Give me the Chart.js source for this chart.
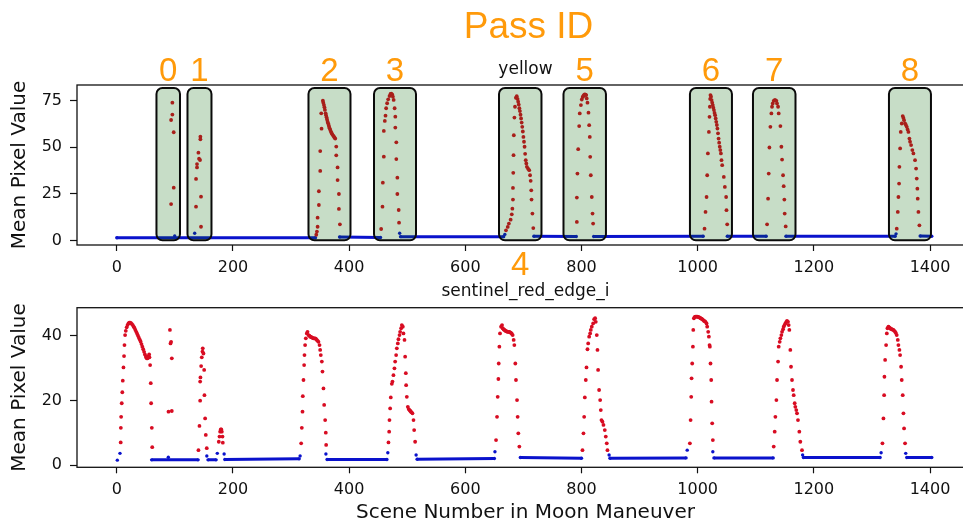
<!DOCTYPE html>
<html><head><meta charset="utf-8">
<script src="https://cdn.jsdelivr.net/npm/chart.js@4.4.1/dist/chart.umd.min.js"></script>
<style>
html,body{margin:0;padding:0;background:#fff;overflow:hidden;width:963px;height:524px}
#wrap{position:relative;width:963px;height:524px;overflow:hidden;background:#fff}
canvas{position:absolute;left:0}
#c1{top:0}
#c2{top:280px}
</style></head><body>
<div id="wrap"><canvas id="c1" width="1000" height="280"></canvas><canvas id="c2" width="1000" height="246"></canvas></div>
<script>
// ---------- tick labels ----------
const sceneTicks = [0, 200, 400, 600, 800, 1000, 1200, 1400];
const yellowTicks = [0, 25, 50, 75];
const redEdgeTicks = [0, 20, 40];

// ---------- pass annotation (scene ranges of highlighted passes) ----------
const passIds   = ['0', '1', '2', '3', '4', '5', '6', '7', '8'];
const passStart = [68.3, 121.7, 330, 442.8, 658, 769, 986.7, 1095.2, 1329.3];
const passEnd   = [108.8, 163, 402.3, 515.1, 731.1, 842.1, 1059, 1168.4, 1401.6];

// ---------- "yellow" band: in-pass scenes [scene, mean pixel value] ----------
const yellowPass0 = [[93.5,19.5],[93.5,64.7],[95.7,74],[95.7,67.6],[98,58.1],[98,28.3]];
const yellowPass1 = [[136.4,18.1],[136.4,33],[138.1,39.2],[138.1,41],[140.5,47.1],[141.6,43.9],[143.3,43.2],[143.9,55.7],[143.9,54.3],[145,23.5],[145,7.3]];
const yellowPass2 = [[343.4,3.0],[344.5,4.7],[345.7,7.3],[345.7,12.2],[347.9,19],[347.9,26.4],[350.2,37.3],[350.2,48],[352.5,60],[352,68.3],[354.8,75.1],[355.5,74],[356.6,72.8],[357.5,71.5],[358.3,70.1],[359.5,68.3],[360.3,67.2],[361.2,66.1],[362,65],[362.9,63.8],[363.8,62.9],[364.7,62],[365.5,61.1],[366.4,60.2],[367.5,59.3],[368.7,58.4],[369.8,57.7],[371,57],[372.4,56.3],[373.8,55.7],[375,55.2],[376.1,54.7],[377.8,50.4],[377.8,45.7],[380.1,39.2],[380.1,32.4],[382.4,24.9],[382.4,16.9],[384.1,8.6]];
const yellowPass3 = [[455.1,6.1],[457.4,18.1],[458,31],[459.7,45],[459.7,58.8],[461.4,64.2],[462.6,67],[463.7,71],[465.4,73.7],[467.2,75.8],[469.5,77.6],[471.2,78.7],[472.5,78.9],[474,78.5],[475.3,77.2],[476.6,75.5],[478.3,71],[479.5,66.5],[479.5,60.6],[481.2,52.7],[481.2,43.7],[483,33.7],[483,24.9],[485.3,16.3],[485.9,9.5]];
const yellowPass4 = [[670,5.4],[673,7.2],[675,9],[678,11.1],[680,14],[681,17],[682,21.9],[682,28.2],[682.5,36.3],[683,45.8],[683.5,56.5],[684.5,66],[685.5,71.8],[687,76.6],[688.5,77.5],[690,76],[691,74.5],[692,73],[693,71],[694,69.5],[695,67.5],[696,65.5],[697,63.3],[698,61],[699,58.5],[700,55.6],[701,53],[702,50.3],[703,46.5],[704,43.1],[705,41.3],[706,39.5],[708,38.5],[710,37.7],[711.5,35],[712.5,32],[713.5,26.9],[714,21.9],[715.5,14.4],[717,6.6]];
const yellowPass5 = [[792,9.9],[792,23],[793,35.9],[794.3,49],[796,61.4],[797,68.2],[799,72.7],[800.5,75.7],[802,77],[803,77.5],[804,78],[805.5,78.4],[807,78.3],[808,78.1],[809,76.3],[810.3,74],[812,68.6],[813.2,61.9],[814.3,55.6],[815,44.9],[816,35],[817.7,23.3],[819,14.4],[820,9]];
const yellowPass6 = [[1011.8,6.3],[1013.5,15.3],[1015.3,23.3],[1016.4,35],[1017.6,46.7],[1019.3,58.3],[1020.4,66.4],[1021,71.8],[1021.5,76],[1022,78.1],[1023,77.2],[1024,75.4],[1025,74],[1026,72.7],[1027,71.3],[1028,70],[1029,68.5],[1030,67.3],[1031,65.5],[1032,63.7],[1033,62],[1034,60.1],[1035,57.5],[1036,54.7],[1037,52.5],[1038,50.3],[1039,48.5],[1040,46.7],[1041,43.1],[1042.2,40.4],[1045,34.1],[1046.8,28.7],[1049,23.3],[1049.6,16.2],[1050.8,8.6]];
const yellowPass7 = [[1119.5,8.6],[1121.2,22.4],[1122.3,35.9],[1123.5,49.9],[1125.2,61],[1126.9,68.2],[1128,71.8],[1129.2,73.6],[1130.9,75],[1132.4,75.4],[1133.8,75.4],[1135.5,75],[1136.6,73.6],[1138.4,71.8],[1139.5,68.2],[1142.4,61.4],[1144.1,50.3],[1145.3,43.4],[1147,35],[1148.1,29.1],[1149.2,21.9],[1149.8,14.4],[1151.5,7.5]];
const yellowPass8 = [[1342.7,6.3],[1344.5,15.3],[1345.6,23.3],[1346.7,30.5],[1347.3,39.5],[1348.5,49.4],[1349.6,58.3],[1351.3,62.8],[1353,66.8],[1354.2,65.8],[1355.3,64.6],[1357,62.8],[1358.5,62],[1359.9,61],[1361.4,59.6],[1362.8,58.3],[1364.5,54.7],[1365.6,53],[1367.4,51.2],[1369.6,48.5],[1371.4,46.7],[1374.2,43.1],[1376,38.6],[1377.1,33.2],[1378.2,27.8],[1378.8,22.4],[1380,15.3],[1381.7,8.1]];
// out-of-pass scenes: runs of consecutive scenes (single-entry runs are isolated scenes)
const yellowBaseline = [
  [[0,1.4],[342,1.4]], [[99.7,2.4]], [[134.1,3.8]],
  [[383.5,1.8],[454,1.5]],
  [[487,3.8]], [[488.5,2.0],[666,2.0]], [[668,3.2]],
  [[718,2.2],[791,2.1]],
  [[821,2.1],[1009.5,2.2]],
  [[1051,2.2],[1118,2.2]],
  [[1152,2.2],[1340,2.2]], [[1341.5,3.5]],
  [[1383,2.3],[1403,2.2]]
];

// ---------- "sentinel_red_edge_i" band ----------
const redEdgePassA = [[6.7,7],[7,11.5],[7.5,14.9],[8.5,19.1],[9.5,22.5],[10.3,26.1],[11.5,30.2],[12.5,33.7],[13.2,37.1],[14.3,40.2],[15.5,41.5],[17,42.6],[18.5,43.3],[20,43.8],[21.5,44],[23,44],[24.5,43.9],[26,43.6],[27.5,43.3],[29,42.8],[30.5,42.4],[32,41.8],[33.5,41.2],[35,40.6],[36.5,40],[38,39.4],[39.5,38.8],[41,38.2],[42.5,37.4],[44,36.6],[45.5,35.8],[47,35],[48.5,34.2],[50,33.5],[51.5,33],[53,33],[54.5,33.6],[55.7,34.2],[56.2,33.3],[57.4,30.9],[58.5,25.3],[59.1,19.1],[60.3,11.5],[61,5.5]];
const redEdgePassB = [[89,16.5],[91.5,41.8],[92.5,37.6],[93.5,38.1],[94.7,33],[94.7,16.7]];
const redEdgePassC = [[140.6,4.6],[142.3,12.1],[143.5,19.9],[143.5,25.8],[144,27.1],[145.2,30.6],[146.3,33.3],[147.5,35.1],[148,36.1],[149.2,34.5],[150.4,29.4],[150.9,21.6],[152.1,14.4],[153.2,9.3],[154.9,5.2]];
const redEdgePassD = [[175.6,7.2],[176.8,8.8],[177.9,10.3],[179,11],[180,11],[180.8,10.3],[182,8.8],[182.5,6.9]];
const redEdgePassE = [[317.4,6.7],[318.5,11.5],[319.7,16.5],[320.2,21.3],[321.4,26.3],[322.5,30.9],[323.1,34],[324.2,37.1],[325.4,39.2],[327.1,40.7],[328.3,41.2],[330,40.2],[331.5,40],[332.9,39.7],[334.3,39.6],[335.7,39.5],[337.2,39.3],[338.6,39.2],[340,39.2],[341.5,39.2],[342.9,39],[344.3,38.7],[345.8,38.4],[347.2,38.1],[349,37.1],[350.1,35.6],[351.2,34],[353,32],[354.1,28.9],[355.8,23.7],[357,18.6],[358.7,13.9],[359.8,10],[360.4,6.2]];
const redEdgePassF = [[467.7,7],[468.9,10.3],[469.4,13.9],[470.6,17.5],[471.7,20.9],[473.5,25.1],[474.6,25.8],[476.3,27.8],[478,29.9],[479.2,32],[480.9,34],[482.1,36.1],[483.8,37.6],[484.9,38.9],[486.7,40.2],[487.8,41.2],[489.5,42.3],[490.7,43.3],[492.4,42.8],[493.5,40.7],[495.3,38.7],[496.4,33.5],[497.6,28.4],[498.1,24.7],[499.3,21.1],[501,18],[502.5,17.3],[503.9,17],[505,16.8],[506.2,16.5],[507.6,16.3],[509,16],[510.8,13.9],[511.9,10.8],[513.6,7.2]];
const redEdgePassG = [[652.9,7.7],[654.6,14.9],[655.7,21.1],[656.9,26.6],[657.5,31.4],[658.6,36.6],[659.7,40.7],[661.5,42.8],[663.2,43.3],[664.3,42.3],[665.8,42],[667.2,41.8],[668.6,41.6],[670,41.4],[671.5,41.3],[672.9,41.2],[674.4,41.2],[675.8,41.2],[677.2,41],[678.6,40.9],[680,40.6],[681.5,40.2],[683.2,38.7],[684.4,37.1],[686.1,31.4],[687.2,26.3],[689,20.1],[690.1,14.9],[691.2,9.8],[693,5.7]];
const redEdgePassH = [[801.7,4.6],[803.4,9.8],[804.6,14.9],[805.7,20.9],[807.4,26.3],[808.6,30.2],[810.3,35.8],[811.5,37.6],[813.2,39.7],[814.9,40.7],[816,41.8],[817.7,42.8],[820,43.8],[821.8,45.1],[823.5,45.4],[824.6,44.3],[826.3,40.2],[827.5,35.6],[828.6,29.4],[830.3,23.2],[832.1,20.1],[833.2,17],[834.4,13.9],[836.1,13.4],[837.8,12.4],[840.1,10.8],[841.8,8.8],[843.5,6.7],[844.7,4.6]];
const redEdgePassI = [[986.6,6.7],[987.8,13.9],[988.9,21.1],[989.5,26.8],[990.6,31.4],[991.8,36.6],[992.4,41.8],[993.5,45.4],[995,45.8],[996.4,45.9],[997.8,45.9],[999.2,45.9],[1000.6,45.8],[1002.1,45.7],[1003.5,45.6],[1005,45.4],[1006.4,45.3],[1007.8,45.1],[1009.2,44.9],[1010.7,44.6],[1012.1,44.5],[1013.5,44.3],[1015.3,43.8],[1016.4,42.8],[1018.1,41.2],[1019.3,39.7],[1020.4,37.1],[1021,36.6],[1022.1,31.4],[1023.3,26.3],[1023.9,19.6],[1025,12.9],[1026.1,7.7]];
const redEdgePassJ = [[1130.9,5.7],[1132.6,10.3],[1133.8,14.9],[1135.5,20.1],[1136.6,26.3],[1138.4,32],[1139.5,36.6],[1141.2,38.1],[1142.4,39.2],[1144.1,40.2],[1145.3,41.2],[1147,42],[1148.1,42.8],[1149.5,43.3],[1151,43.8],[1152.4,44.2],[1153.8,44.6],[1155.5,44.3],[1156.7,43.3],[1157.8,41.8],[1159.5,35.6],[1160.7,30.4],[1162.4,26.3],[1164.1,23.2],[1165.3,21.6],[1167,19.1],[1168.1,18],[1169.8,17],[1171,16],[1172.7,13.9],[1175,10.3],[1176.7,7.2],[1179.6,4.6]];
const redEdgePassK = [[1318.1,6.7],[1319.8,14.4],[1321,21.6],[1321.5,27.3],[1322.7,32.5],[1324.4,37.1],[1325.6,40.7],[1326.7,42.3],[1328.4,42.8],[1329.8,42.6],[1331.3,42.3],[1332.7,42.1],[1334.2,42],[1335.6,41.9],[1337,41.8],[1338.5,41.5],[1339.9,41.2],[1341.3,40.8],[1342.7,40.2],[1344.5,38.7],[1345.6,37.1],[1347.3,35.6],[1348.5,34],[1350.2,30.4],[1351.3,26.3],[1353,21.6],[1354.2,16],[1355.3,11.3],[1357,6.7]];
const redEdgeBaseline = [
  [[0.9,1.5]], [[5.5,3.6]],
  [[60,1.6],[140,1.6]], [[88.7,2.4]],
  [[155,2.8]], [[157,1.6],[171,1.6]], [[173,3.6]],
  [[184.8,3.4]], [[186,1.7],[314,1.9]], [[315.6,2.8]],
  [[360,3.4]], [[362,1.7],[465,1.7]], [[466.6,3.8]],
  [[515.3,3.1]], [[517,1.8],[650,2.0]], [[651,4.1]],
  [[694.7,2.3],[800,2.1]],
  [[847.5,3.1]], [[849,2.1],[980,2.2]], [[982,4.6]],
  [[1026.1,4.1]], [[1028,2.2],[1130,2.2]],
  [[1180.7,3.1]], [[1182,2.3],[1314,2.3]], [[1315.8,3.8]],
  [[1358.2,3.6]], [[1360,2.3],[1403,2.3]]
];

const yellowPasses = [yellowPass0, yellowPass1, yellowPass2, yellowPass3, yellowPass4, yellowPass5, yellowPass6, yellowPass7, yellowPass8];
const redEdgePasses = [redEdgePassA, redEdgePassB, redEdgePassC, redEdgePassD, redEdgePassE, redEdgePassF, redEdgePassG, redEdgePassH, redEdgePassI, redEdgePassJ, redEdgePassK];

// ---------- helpers ----------
const toPts = groups => groups.flat().map(([x, y]) => ({x, y}));
const toRuns = runs => {
  const out = [];
  runs.forEach((run, i) => {
    if (i > 0) out.push({x: run[0][0], y: null});
    run.forEach(([x, y]) => out.push({x, y}));
  });
  return out;
};

const RED = '#d80c22';
const BLUE = '#0a12cc';
const ORANGE = '#ff9a0a';
const FONT = "'DejaVu Sans', sans-serif";
Chart.defaults.font.family = FONT;
Chart.defaults.color = '#111';

const frame = {
  id: 'frame',
  afterDraw(chart) {
    const a = chart.chartArea, c = chart.ctx;
    c.save(); c.strokeStyle = '#111'; c.lineWidth = 1.3;
    c.strokeRect(a.left, a.top, a.right - a.left, a.bottom - a.top);
    c.restore();
  }
};

const passBoxes = {
  id: 'passBoxes',
  afterDatasetsDraw(chart) {
    const xs = chart.scales.x, ys = chart.scales.y, c = chart.ctx;
    const yTop = ys.getPixelForValue(81.9), yBot = ys.getPixelForValue(0);
    c.save();
    passStart.forEach((s, i) => {
      const x0 = xs.getPixelForValue(s), x1 = xs.getPixelForValue(passEnd[i]);
      c.beginPath();
      c.roundRect(x0, yTop, x1 - x0, yBot - yTop, 6);
      c.fillStyle = 'rgba(0,100,0,0.22)';
      c.fill();
      c.lineWidth = 2; c.strokeStyle = '#0a0a0a';
      c.stroke();
    });
    c.restore();
  },
  afterDraw(chart) {
    const xs = chart.scales.x, c = chart.ctx;
    c.save();
    c.fillStyle = ORANGE; c.textAlign = 'center'; c.textBaseline = 'alphabetic';
    c.font = "37px 'Liberation Sans', Arial, sans-serif";
    c.fillText('Pass ID', 528.5, 38.3);
    c.font = "33px 'Liberation Sans', Arial, sans-serif";
    passIds.forEach((id, i) => {
      const cx = xs.getPixelForValue((passStart[i] + passEnd[i]) / 2);
      const below = id === '4';
      c.fillText(id, cx, below ? 275 : 80.5);
    });
    c.restore();
  }
};

function xScale(withTitle) {
  return {
    type: 'linear', min: -68.5, max: 1475.7,
    afterBuildTicks: s => { s.ticks = sceneTicks.map(v => ({value: v})); },
    ticks: {font: {size: 16}, color: '#111', padding: 7, maxRotation: 0, autoSkip: false, callback: v => String(v)},
    grid: {drawOnChartArea: false, drawTicks: true, tickLength: 6, tickColor: '#111', tickWidth: 1.2},
    border: {display: false},
    title: withTitle ? {display: true, text: 'Scene Number in Moon Maneuver', font: {size: 20}, color: '#111', padding: {top: 0, bottom: 1.6}} : {display: false}
  };
}
function yScale(min, max, ticksArr) {
  return {
    type: 'linear', min, max,
    afterBuildTicks: s => { s.ticks = ticksArr.map(v => ({value: v})); },
    afterFit: s => { s.width = 77; },
    ticks: {font: {size: 16}, color: '#111', padding: 8, callback: v => String(v)},
    grid: {drawOnChartArea: false, drawTicks: true, tickLength: 7, tickColor: '#111', tickWidth: 1.2},
    border: {display: false},
    title: {display: true, text: 'Mean Pixel Value', font: {size: 20}, color: '#111', padding: {top: 8, bottom: 0}}
  };
}
function datasets(passes, runs) {
  return [
    {label: 'in pass', data: toPts(passes), pointRadius: 1.9, pointBackgroundColor: RED, pointBorderWidth: 0, showLine: false},
    {label: 'out of pass', data: toRuns(runs), showLine: true, spanGaps: false, borderColor: BLUE, borderWidth: 3, pointRadius: 1.7, pointBackgroundColor: BLUE, pointBorderWidth: 0}
  ];
}
function baseOptions(title, titlePad, xHeight, withXTitle, ymin, ymax, yticks) {
  const xs = xScale(withXTitle);
  xs.afterFit = s => { s.height = xHeight; };
  return {
    responsive: false, animation: false, devicePixelRatio: 1, events: [],
    layout: {padding: {top: 0, left: 0, right: 26, bottom: 0}},
    plugins: {
      legend: {display: false}, tooltip: {enabled: false},
      title: {display: true, text: title, fullSize: false, font: {size: 17, weight: 'normal'}, color: '#111', padding: titlePad}
    },
    scales: {x: xs, y: yScale(ymin, ymax, yticks)}
  };
}

new Chart(document.getElementById('c1'), {
  type: 'scatter',
  data: {datasets: datasets(yellowPasses, yellowBaseline)},
  options: baseOptions('yellow', {top: 58.9, bottom: 5.7}, 35, false, -2.5, 83.5, yellowTicks),
  plugins: [passBoxes, frame]
});
new Chart(document.getElementById('c2'), {
  type: 'scatter',
  data: {datasets: datasets(redEdgePasses, redEdgeBaseline)},
  options: baseOptions('sentinel_red_edge_i', {top: 1.6, bottom: 5.7}, 58.7, true, -0.71, 48.66, redEdgeTicks),
  plugins: [frame]
});
</script>
</body></html>
